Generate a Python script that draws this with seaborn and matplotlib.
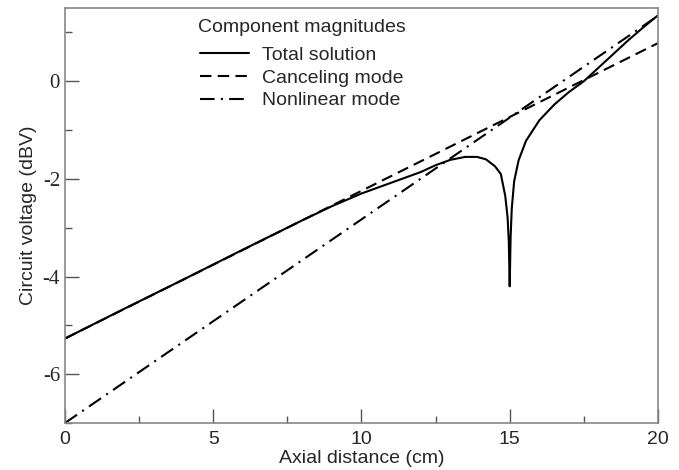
import matplotlib
matplotlib.use("Agg")
import matplotlib.pyplot as plt
import seaborn as sns
import pandas as pd
from matplotlib.ticker import MultipleLocator

# Data
total_x = [0, 2, 4, 6, 8, 9, 10, 11, 12, 12.5, 13, 13.5, 13.9, 14.2, 14.5, 14.7,
           14.85, 14.93, 14.97, 15.0, 15.03, 15.07, 15.15, 15.3, 15.55, 16.0, 16.5,
           17.0, 17.5, 18.0, 18.5, 19.0, 19.5, 20.0]
total_y = [-5.27, -4.66, -4.06, -3.45, -2.85, -2.56, -2.30, -2.08, -1.86, -1.72,
           -1.61, -1.55, -1.55, -1.60, -1.74, -1.90, -2.35, -2.80, -3.30, -4.20,
           -3.20, -2.60, -2.05, -1.62, -1.22, -0.80, -0.48, -0.22, 0.00, 0.28,
           0.56, 0.84, 1.10, 1.35]
cancel_x = [0, 20]
cancel_y = [-5.27, 0.78]
nonlin_x = [0, 20]
nonlin_y = [-7.0, 1.34]

labels = ["Total solution", "Canceling mode", "Nonlinear mode"]
legend_title = "Component magnitudes"

df = pd.concat([
    pd.DataFrame({"x": total_x, "y": total_y, "series": labels[0]}),
    pd.DataFrame({"x": cancel_x, "y": cancel_y, "series": labels[1]}),
    pd.DataFrame({"x": nonlin_x, "y": nonlin_y, "series": labels[2]}),
], ignore_index=True)

sns.set_style("white")
plt.rcParams['font.family'] = ['Liberation Sans', 'DejaVu Sans']
plt.rcParams['axes.unicode_minus'] = False

fig = plt.figure(figsize=(6.79, 4.70), dpi=100)
ax = fig.add_axes([0.0957, 0.1, 0.8733, 0.883])

sns.lineplot(data=df, x="x", y="y", hue="series", style="series",
             palette={l: "black" for l in labels},
             dashes={labels[0]: "", labels[1]: (5.5, 3), labels[2]: (7, 3, 1, 3)},
             linewidth=1.5, sort=False, estimator=None, ax=ax)

ax.set_xlim(0, 20)
ax.set_ylim(-7, 1.5)
ax.xaxis.set_major_locator(MultipleLocator(5))
ax.xaxis.set_minor_locator(MultipleLocator(2.5))
ax.yaxis.set_major_locator(MultipleLocator(2))
ax.yaxis.set_minor_locator(MultipleLocator(1))
ax.tick_params(axis="both", which="major", direction="in", length=10, width=1,
               color="#555555", labelsize=14, bottom=True, left=True, top=False, right=False)
ax.tick_params(axis="x", which="major", pad=6)
ax.tick_params(axis="both", which="minor", direction="in", length=5, width=1,
               color="#555555", bottom=True, left=True, top=False, right=False)
for lab in ax.get_yticklabels():
    lab.set_family(["Liberation Serif", "DejaVu Serif"])
    lab.set_fontsize(15)
for s in ax.spines.values():
    s.set_color("#888888")
    s.set_linewidth(1.2)

ax.set_xlabel("Axial distance (cm)", fontsize=14, labelpad=1)
ax.set_ylabel("Circuit voltage (dBV)", fontsize=14, labelpad=4)

handles, labs = ax.get_legend_handles_labels()
leg = ax.legend(handles, labs, loc="upper left",
                bbox_to_anchor=(0.2145, 0.926), frameon=False, fontsize=14,
                handlelength=2.5, labelspacing=0.26, handletextpad=0.67,
                borderaxespad=0.0)
ax.text(0.2243, 0.952, legend_title, transform=ax.transAxes, fontsize=14,
        ha="left", va="center")

fig.savefig("out.png", dpi=100)
